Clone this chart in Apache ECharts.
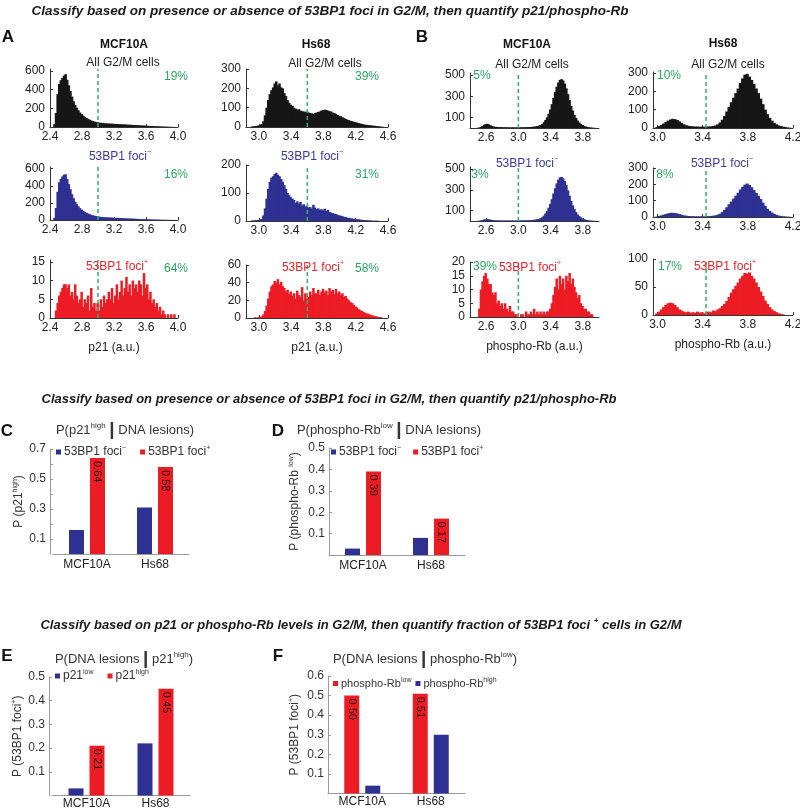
<!DOCTYPE html>
<html><head><meta charset="utf-8">
<script src="https://cdn.jsdelivr.net/npm/echarts@6/dist/echarts.min.js"></script>
<style>html,body{margin:0;padding:0;background:#fff}#c{width:800px;height:809px}</style>
</head><body><div id="c"></div>
<script>
// ---------------- DATA ----------------
const BIN = 0.02;
function bins(start, n){ const a=[]; for(let i=0;i<n;i++) a.push(+(start+i*BIN).toFixed(2)); return a; }
const binsP21MCF = bins(2.45,76);   // 2.45 .. 3.95
const binsP21Hs  = bins(2.91,82);   // 2.91 .. 4.53
const binsRbMCF  = bins(2.45,76);   // 2.45 .. 3.95
const binsRbHs   = bins(2.99,60);   // 2.99 .. 4.17

// p21, MCF10A
const p21MCF_all = [30,150,350,460,500,525,550,565,505,445, 385,325,275,235,205,178,155,138,122,108,
  97,87,78,70,64,58,54,50,47,44, 42,41,38,39,36,37,34,35,32,33, 31,29,30,27,28,26,24,25,23,22,
  21,20,19,18,17,16,15,14,13,12, 11,10,9,8,8,7,6,5,5,4, 3,3,2,2,1,1];
const p21MCF_neg = [25,140,330,440,480,510,530,535,480,420, 360,300,255,215,185,160,138,122,108,95,
  85,76,68,60,55,50,46,43,40,37, 35,33,32,31,30,29,28,27,26,25, 24,23,22,21,20,19,18,17,17,16,
  15,14,13,12,11,10,10,9,8,8, 7,6,6,5,5,4,4,3,3,2, 2,2,1,1,1,0];
const p21MCF_pos = [0,2,4,6,7,8,9,9,8,9, 6,7,5,9,6,4,5,7,3,5, 4,6,2,8,3,4,2,4,2,5,
  3,6,4,5,7,5,8,4,6,9, 5,7,10,6,8,11,7,9,6,10, 8,9,7,10,9,6,12,8,9,5,
  7,4,5,3,4,2,3,1,2,1, 0,1,0,1,0,1];
// p21, Hs68
const p21Hs_all = [3,4,5,6,8,10,15,30,60,100, 140,170,190,205,225,236,215,225,205,200,
  175,160,140,125,115,110,100,95,90,92, 85,82,80,78,80,75,72,70,68,72, 75,78,80,85,88,90,88,85,82,80,
  75,72,68,62,58,55,50,46,42,38, 35,32,30,27,25,23,20,18,16,14, 12,11,10,9,8,7,6,5,4,3, 2,1];
const p21Hs_neg = [2,2,3,3,4,5,8,20,45,80, 115,140,155,160,168,172,165,160,150,140,
  128,115,100,92,85,80,75,65,70,62, 68,55,60,52,55,48,50,45,58,48, 42,45,40,42,38,44,36,40,32,30,
  28,26,25,22,20,19,17,15,14,12, 11,10,9,8,7,6,6,5,4,4, 3,3,2,2,2,1,1,1,1,0, 0,0];
const p21Hs_pos = [0,0,1,0,1,1,2,4,8,14, 22,30,36,38,42,40,44,38,41,36,
  34,30,32,27,30,25,28,22,31,26, 24,35,20,28,22,24,30,26,34,28, 28,32,26,30,33,29,31,26,34,30,
  32,27,33,28,30,26,28,24,25,22, 20,18,17,15,13,12,10,9,8,7, 6,5,5,4,3,3,2,2,1,1, 1,0];
// phospho-Rb, MCF10A
const rbMCF_all = [0,0,2,5,10,18,30,38,40,34, 26,18,14,11,10,9,8,8,7,7, 7,6,6,6,6,6,6,6,6,7,
  7,7,8,8,9,10,11,13,15,18, 22,28,38,55,75,100,135,175,225,285, 340,390,430,455,462,450,420,375,320,265,
  210,165,125,95,70,52,38,28,20,14, 10,7,5,3,2,1];
const rbMCF_neg = [0,0,1,3,6,10,14,17,18,16, 13,10,8,7,6,6,5,5,5,5, 5,5,5,5,5,5,5,5,5,6,
  6,6,7,7,8,9,10,12,14,17, 21,27,36,52,72,96,128,165,210,265, 315,362,398,420,425,412,385,345,295,243,
  193,150,114,86,63,47,34,25,18,12, 9,6,4,3,2,1];
const rbMCF_pos = [0,0,0,3,10,13,15,16,14,12, 12,9,8,9,5,6,4,5,3,5, 3,2,4,2,2,1,1,0,0,1,
  1,0,2,1,1,2,1,3,1,2, 1,2,1,2,1,2,2,3,5,8, 11,14,10,15,12,14,10,15,13,16,
  12,14,11,9,7,8,5,4,3,3, 2,2,1,1,0,0];
// phospho-Rb, Hs68
const rbHs_all = [5,10,16,24,32,40,46,50,48,44, 36,28,20,15,12,10,9,8,8,7, 7,7,8,8,9,11,14,20,30,45,
  65,90,115,140,165,190,215,245,270,290, 295,280,262,240,215,190,160,130,100,75, 55,40,28,20,14,10,7,5,3,1];
const rbHs_neg = [3,6,10,14,18,22,25,26,24,22, 18,14,10,8,6,5,5,4,4,4, 4,4,5,5,6,8,10,14,20,30,
  44,60,78,95,112,130,148,168,185,198, 205,196,182,165,148,130,110,88,68,50, 37,27,19,13,9,6,4,3,2,1];
const rbHs_pos = [3,6,10,14,18,21,22,21,18,14, 10,8,6,5,6,4,5,4,6,4, 5,3,5,6,5,8,7,10,12,16,
  20,25,32,40,46,52,58,65,70,75, 74,76,70,65,58,50,42,34,26,20, 14,10,7,5,3,2,1,0,0,0];

const thresholds = [3.0, 3.6, 3.0, 3.43];
const pctAll = ['19%','39%','5%','10%'];
const pctNeg = ['16%','31%','3%','8%'];
const pctPos = ['64%','58%','39%','17%'];

const xTicks = [[2.4,2.8,3.2,3.6,4.0],[3.0,3.4,3.8,4.2,4.6],[2.6,3.0,3.4,3.8],[3.0,3.4,3.8,4.2]];
const yTicks = [
  [[0,200,400,600],[0,200,400,600],[0,5,10,15]],
  [[0,100,200,300],[0,100,200],[0,20,40,60]],
  [[100,300,500],[100,300,500],[0,5,10,15,20]],
  [[0,100,200,300],[0,100,200,300],[0,50,100]]
];
const xNames = ['p21 (a.u.)','p21 (a.u.)','phospho-Rb (a.u.)','phospho-Rb (a.u.)'];

const cellLines = ['MCF10A','Hs68'];
const cNeg = [0.16,0.31], cPos = [0.64,0.58];
const dNeg = [0.03,0.08], dPos = [0.39,0.17];
const eLow = [0.03,0.22], eHigh = [0.21,0.45];
const fLow = [0.50,0.51], fHigh = [0.04,0.30];

// ---------------- LAYOUT / STYLE ----------------
const FF = '"Liberation Sans", Arial, Helvetica, sans-serif';
const BLACK='#161616', BLUE='#2e3192', RED='#ec1c24', GREEN='#2aa862', DASH='#2fb06c';

const cols = [
  {left:50, width:128, min:2.4, max:4.0},
  {left:246, width:142, min:2.84, max:4.6},
  {left:470, width:129, min:2.4, max:4.0},
  {left:653, width:140, min:2.96, max:4.2}
];
const rowsLayout = [
  [{top:69,height:58,max:620},{top:167,height:53,max:620},{top:260,height:58,max:15.5}],
  [{top:69,height:58,max:300},{top:165,height:56,max:200},{top:265,height:53,max:60}],
  [{top:73,height:55,max:520},{top:167,height:54,max:520},{top:262,height:55,max:20}],
  [{top:72,height:56,max:305},{top:168,height:49,max:300},{top:259,height:56,max:100}]
];
const histData = [
  [p21MCF_all,p21MCF_neg,p21MCF_pos],
  [p21Hs_all,p21Hs_neg,p21Hs_pos],
  [rbMCF_all,rbMCF_neg,rbMCF_pos],
  [rbHs_all,rbHs_neg,rbHs_pos]
];
const histBins = [binsP21MCF, binsP21Hs, binsRbMCF, binsRbHs];
const rowColors = [BLACK, BLUE, RED];

const grids=[], xAxes=[], yAxes=[], series=[];

function histRenderer(color){
  return function(params, api){
    const x = api.value(0), y = api.value(1);
    const p0 = api.coord([x - BIN/2, 0]);
    const p1 = api.coord([x + BIN/2, y]);
    return {type:'rect', shape:{x:p0[0], y:p1[1], width:(p1[0]-p0[0])+0.9, height:p0[1]-p1[1]},
      style:{fill:color}};
  };
}

function addHist(ci, ri){
  const c = cols[ci], r = rowsLayout[ci][ri];
  const gi = grids.length;
  grids.push({left:c.left, top:r.top, width:c.width, height:r.height, outerBoundsMode:'none'});
  xAxes.push({type:'value', gridIndex:gi, min:c.min, max:c.max,
    axisLine:{show:true, onZero:false, lineStyle:{color:'#333', width:1}},
    axisTick:{show:true, inside:true, length:3, customValues:xTicks[ci], lineStyle:{color:'#333'}},
    axisLabel:{customValues:xTicks[ci], formatter:v=>v.toFixed(1), fontSize:12, color:'#222', margin:4, fontFamily:FF},
    splitLine:{show:false},
    name: ri===2 ? xNames[ci] : '', nameLocation:'middle', nameGap:24,
    nameTextStyle:{fontSize:12, color:'#222', fontFamily:FF}});
  yAxes.push({type:'value', gridIndex:gi, min:0, max:r.max,
    axisLine:{show:true, lineStyle:{color:'#333', width:1}},
    axisTick:{show:true, inside:true, length:3, customValues:yTicks[ci][ri], lineStyle:{color:'#333'}},
    axisLabel:{customValues:yTicks[ci][ri], fontSize:12, color:'#222', margin:5, fontFamily:FF},
    splitLine:{show:false}});
  const b = histBins[ci], v = histData[ci][ri];
  series.push({type:'custom', xAxisIndex:gi, yAxisIndex:gi, silent:true, clip:true,
    renderItem: histRenderer(rowColors[ri]),
    encode:{x:0, y:1},
    data: b.map((x,i)=>[x, v[i]])});
  series.push({type:'line', xAxisIndex:gi, yAxisIndex:gi, silent:true, symbol:'none', z:5,
    data:[[thresholds[ci], 0],[thresholds[ci], r.max]],
    lineStyle:{color:DASH, type:[4,3], width:1.5}});
}
for (let ci=0; ci<4; ci++) for (let ri=0; ri<3; ri++) addHist(ci, ri);

function supRich(fs, color){
  return {
    n:{fontSize:fs, color, fontFamily:FF, lineHeight:fs+2},
    s:{fontSize:Math.round(fs*0.6), color, fontFamily:FF, verticalAlign:'top', lineHeight:Math.round(fs*0.6)}
  };
}
const barLabel = {show:true, position:'insideTop', distance:3, rotate:-90, align:'left', verticalAlign:'middle',
  formatter:p=>p.value.toFixed(2), fontSize:11, color:'#2a1010', fontFamily:FF};

function addBars(p){
  const gi = grids.length;
  grids.push({left:p.left, top:p.top, width:p.width, height:p.height, outerBoundsMode:'none'});
  xAxes.push({type:'category', gridIndex:gi, data:cellLines,
    axisLine:{show:true, lineStyle:{color:'#9a9a9a'}}, axisTick:{show:false},
    axisLabel:{fontSize:12, color:'#222', margin:p.lm, fontFamily:FF}});
  yAxes.push({type:'value', gridIndex:gi, min:0, max:p.max, offset:p.off||0,
    axisLine:{show:true, lineStyle:{color:'#9a9a9a'}},
    axisTick:{show:true, inside:true, length:3, customValues:p.ticks, lineStyle:{color:'#9a9a9a'}},
    axisLabel:{customValues:p.labels, formatter:v=>v.toFixed(1), fontSize:12, color:'#333', margin:4, fontFamily:FF},
    splitLine:{show:false},
    name:p.yname, nameLocation:'middle', nameRotate:90, nameGap:p.ng,
    nameTextStyle:{rich:supRich(12,'#333')}});
  p.series.forEach(s => series.push({type:'bar', name:s.name, xAxisIndex:gi, yAxisIndex:gi, silent:true,
    data:s.data, barWidth:15, barGap:'40%', itemStyle:{color:s.color},
    label: s.lab ? barLabel : {show:false}}));
}
addBars({left:53, top:449, width:136, height:105, max:0.7, off:3, lm:5, ng:24,
  ticks:[0.1,0.2,0.3,0.4,0.5,0.6,0.7], labels:[0.1,0.3,0.5,0.7],
  yname:'{n|P (p21}{s|high}{n|)}',
  series:[{name:'C_neg', data:cNeg, color:BLUE},{name:'C_pos', data:cPos, color:RED, lab:true}]});
addBars({left:329, top:448, width:136, height:107, max:0.5, off:0, lm:5, ng:27,
  ticks:[0.1,0.2,0.3,0.4,0.5], labels:[0.1,0.2,0.3,0.4,0.5],
  yname:'{n|P (phospho-Rb }{s|low}{n|)}',
  series:[{name:'D_neg', data:dNeg, color:BLUE},{name:'D_pos', data:dPos, color:RED, lab:true}]});
addBars({left:52, top:677, width:138, height:118.5, max:0.5, off:3, lm:2, ng:24,
  ticks:[0.1,0.2,0.3,0.4,0.5], labels:[0.1,0.2,0.3,0.4,0.5],
  yname:'{n|P (53BP1 foci}{s|+}{n|)}',
  series:[{name:'E_low', data:eLow, color:BLUE},{name:'E_high', data:eHigh, color:RED, lab:true}]});
addBars({left:328, top:676, width:137, height:117.5, max:0.6, off:0, lm:2, ng:26,
  ticks:[0.1,0.2,0.3,0.4,0.5,0.6], labels:[0.1,0.2,0.3,0.4,0.5,0.6],
  yname:'{n|P (53BP1 foci}{s|+}{n|)}',
  series:[{name:'F_low', data:fLow, color:RED, lab:true},{name:'F_high', data:fHigh, color:BLUE}]});

const legendText = {
  C_neg:'{n|53BP1 foci}{s|−}', C_pos:'{n|53BP1 foci}{s|+}',
  D_neg:'{n|53BP1 foci}{s|−}', D_pos:'{n|53BP1 foci}{s|+}',
  E_low:'{n|p21}{s|low}', E_high:'{n|p21}{s|high}',
  F_low:'{n|phospho-Rb}{s|low}', F_high:'{n|phospho-Rb}{s|high}'
};
function mkLegend(left, top, names, gap, fs){
  return {left, top, data:names, orient:'horizontal', icon:'rect', itemWidth:5, itemHeight:5, itemGap:gap,
    selectedMode:false, padding:0, formatter:n=>legendText[n],
    textStyle:{fontSize:fs, color:'#333', fontFamily:FF, padding:[0,0,0,-2], rich:supRich(fs,'#333')}};
}
const legends = [
  mkLegend(56, 445, ['C_neg','C_pos'], 14, 12),
  mkLegend(331, 445, ['D_neg','D_pos'], 12, 12),
  mkLegend(55, 669, ['E_low','E_high'], 14, 12),
  mkLegend(333, 677, ['F_low','F_high'], 4, 11)
];

// ---------------- TEXTS ----------------
function T(x, y, text, o){
  o = o || {};
  const align = o.align || 'center';
  return {type:'text', x, y, z:100, silent:true, style:{text, fill:o.fill||'#222',
    font:o.font||('12px '+FF), textAlign:align, align:align, textVerticalAlign:'middle', verticalAlign:'middle', rich:o.rich}};
}
function gRich(fs, color, weight, style){
  const base = (style||'normal')+' '+(weight||'normal')+' ';
  return {
    n:{font: base+fs+'px '+FF, fill:color, lineHeight:fs+4},
    s:{font: base+Math.round(fs*0.62)+'px '+FF, fill:color, verticalAlign:'top', lineHeight:Math.round(fs*0.62)},
    b:{font: 'normal bold '+(fs+6)+'px '+FF, fill:color, lineHeight:fs+4}
  };
}
const texts = [];
texts.push(T(330, 11, 'Classify based on presence or absence of 53BP1 foci in G2/M, then quantify p21/phospho-Rb', {font:'italic bold 13.5px '+FF, fill:'#1a1a1a'}));
texts.push(T(329, 399, 'Classify based on presence or absence of 53BP1 foci in G2/M, then quantify p21/phospho-Rb', {font:'italic bold 13px '+FF, fill:'#1a1a1a'}));
texts.push(T(361, 625, '{n|Classify based on p21 or phospho-Rb levels in G2/M, then quantify fraction of 53BP1 foci }{s|+}{n| cells in G2/M}',
  {rich:gRich(13,'#1a1a1a','bold','italic')}));

const LET = 'bold 17px '+FF;
[['A',8,37],['B',422,37],['C',7,431],['D',278,431],['E',7,656],['F',278,656]].forEach(a=>texts.push(T(a[1],a[2],a[0],{font:LET,fill:'#111'})));
[['MCF10A',124,45],['Hs68',316,45],['MCF10A',527,45],['Hs68',723,44]].forEach(a=>texts.push(T(a[1],a[2],a[0],{font:'bold 12px '+FF,fill:'#111'})));

const posAll = [[123,63],[325,64],[532,65],[728,65]];
const posNeg = [[120,157],[312,157],[527,164],[722,164]];
const posPos = [[117,267],[313,268],[530,268],[725,267]];
const posPct = [
  [[176,77],[367,77],[482,76],[669,76]],
  [[176,175],[367,175],[480,175],[665,175]],
  [[176,269],[367,269],[485,267],[670,267]]
];
for (let ci=0; ci<4; ci++){
  texts.push(T(posAll[ci][0], posAll[ci][1], 'All G2/M cells', {fill:'#222'}));
  texts.push(T(posNeg[ci][0], posNeg[ci][1], '{n|53BP1 foci}{s|−}', {rich:gRich(12,'#3b3b9c')}));
  texts.push(T(posPos[ci][0], posPos[ci][1], '{n|53BP1 foci}{s|+}', {rich:gRich(12,'#e8242c')}));
  [pctAll,pctNeg,pctPos].forEach((arr,ri)=>texts.push(T(posPct[ri][ci][0], posPct[ri][ci][1], arr[ci], {fill:GREEN})));
}
texts.push(T(125, 430, '{n|P(p21}{s|high}{n| }{b||}{n| DNA lesions)}', {rich:gRich(13,'#333')}));
texts.push(T(389, 430, '{n|P(phospho-Rb}{s|low}{n| }{b||}{n| DNA lesions)}', {rich:gRich(13,'#333')}));
texts.push(T(124, 659, '{n|P(DNA lesions }{b||}{n| p21}{s|high}{n|)}', {rich:gRich(13,'#333')}));
texts.push(T(425, 659, '{n|P(DNA lesions }{b||}{n| phospho-Rb}{s|low}{n|)}', {rich:gRich(13,'#333')}));

const chart = echarts.init(document.getElementById('c'), null, {renderer:'canvas'});
chart.setOption({
  animation:false,
  backgroundColor:'#fff',
  textStyle:{fontFamily:FF},
  grid:grids, xAxis:xAxes, yAxis:yAxes, series:series,
  legend:legends,
  graphic:{elements:texts}
});
</script></body></html>
